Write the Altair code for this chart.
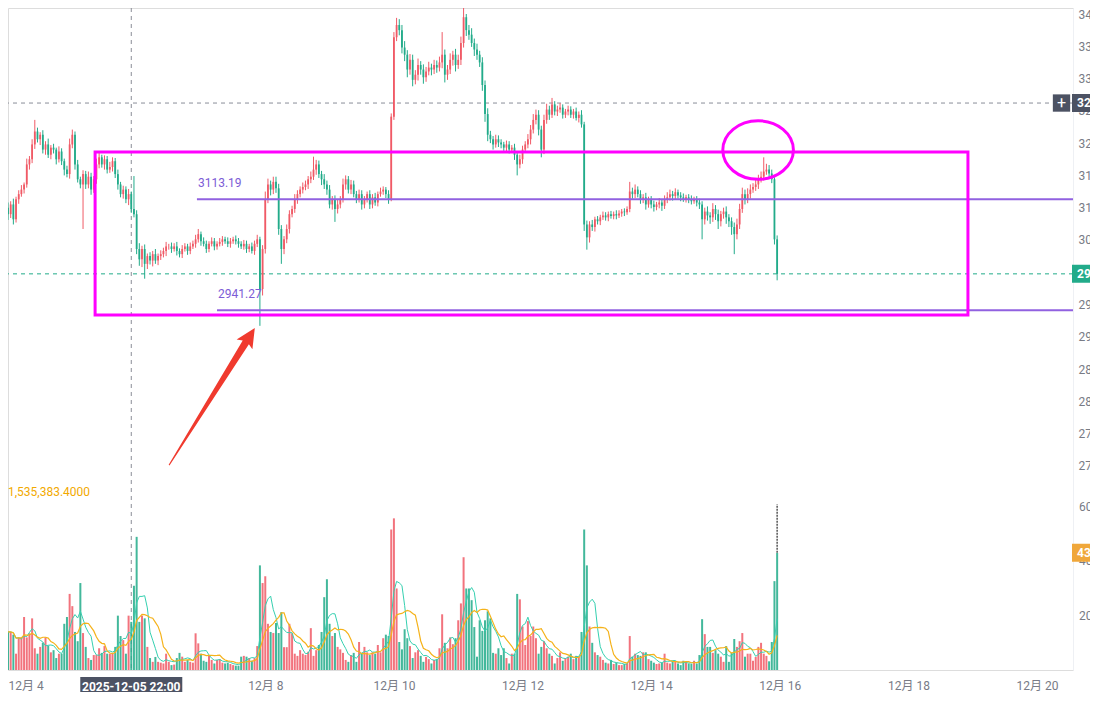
import altair as alt
import pandas as pd

# ---------------- data (hourly candles, 2025-12-04 00:00 UTC onward) ----------------
closes = [
    3090, 3105, 3082, 3113, 3121, 3128, 3136, 3167, 3175, 3198,
    3218, 3206, 3213, 3190, 3198, 3182, 3193, 3190, 3175, 3187,
    3172, 3159, 3152, 3198, 3213, 3167, 3144, 3136, 3152, 3136,
    3148, 3128, 3144, 3167, 3178, 3167, 3175, 3159, 3163, 3172,
    3152, 3136, 3121, 3128, 3113, 3121, 3098, 3090, 3036, 3020,
    3036, 3013, 3025, 3018, 3028, 3018, 3025, 3028, 3033, 3040,
    3040, 3036, 3040, 3033, 3028, 3036, 3040, 3033, 3040, 3044,
    3051, 3059, 3048, 3044, 3036, 3044, 3048, 3040, 3044, 3047,
    3051, 3048, 3044, 3048, 3051, 3048, 3044, 3040, 3044, 3036,
    3040, 3033, 3044, 3051, 2974, 3036, 3113, 3136, 3128, 3140,
    3130, 3067, 3036, 3051, 3067, 3090, 3098, 3113, 3121, 3128,
    3132, 3136, 3144, 3148, 3159, 3167, 3152, 3144, 3136, 3128,
    3105, 3113, 3098, 3105, 3113, 3136, 3144, 3128, 3136, 3121,
    3113, 3121, 3105, 3113, 3121, 3105, 3116, 3108, 3121, 3125,
    3128, 3121, 3113, 3241, 3364, 3383, 3375, 3348, 3337, 3314,
    3329, 3298, 3306, 3321, 3314, 3302, 3311, 3317, 3314, 3321,
    3317, 3325, 3337, 3306, 3314, 3329, 3337, 3321, 3329, 3355,
    3395, 3375, 3368, 3355, 3345, 3337, 3325, 3290, 3245, 3213,
    3206, 3198, 3206, 3201, 3198, 3193, 3198, 3190, 3193, 3182,
    3167, 3175, 3190, 3198, 3206, 3221, 3236, 3244, 3221, 3190,
    3236, 3252, 3244, 3260, 3249, 3252, 3255, 3244, 3249, 3252,
    3244, 3249, 3239, 3244, 3229, 3074, 3054, 3074, 3070, 3082,
    3079, 3085, 3088, 3085, 3090, 3087, 3090, 3088, 3091, 3094,
    3093, 3098, 3125, 3121, 3128, 3121, 3113, 3116, 3105, 3113,
    3105, 3101, 3105, 3108, 3103, 3113, 3116, 3121, 3118, 3124,
    3119, 3116, 3113, 3116, 3113, 3110, 3113, 3108, 3105, 3082,
    3094, 3088, 3085, 3098, 3090, 3079, 3090, 3094, 3085, 3079,
    3070, 3059, 3074, 3098, 3121, 3113, 3121, 3128, 3132, 3136,
    3144, 3148, 3156, 3159, 3153, 3144, 3051, 2997.5,
]
up_wick = [
    8, 5, 9, 4, 6, 7, 3, 9, 5, 8,
    18, 6, 4, 7, 5, 9, 4, 6, 3, 8,
    5, 4, 6, 9, 8, 5, 7, 4, 6, 5,
    8, 6, 5, 9, 7, 4, 6, 5, 8, 6,
    5, 7, 4, 6, 5, 8, 4, 51, 6, 9,
    5, 7, 4, 6, 5, 8, 4, 6, 5, 7,
    4, 6, 5, 7, 4, 6, 5, 4, 6, 5,
    7, 8, 4, 6, 5, 4, 6, 5, 4, 6,
    5, 4, 6, 5, 4, 6, 5, 4, 6, 5,
    4, 6, 5, 7, 4, 6, 12, 9, 6, 8,
    8, 7, 6, 5, 7, 6, 5, 8, 6, 5,
    7, 6, 5, 8, 20, 7, 6, 5, 8, 6,
    7, 5, 6, 8, 5, 9, 6, 5, 7, 6,
    5, 7, 6, 5, 4, 6, 5, 7, 4, 6,
    5, 4, 6, 5, 8, 11, 9, 8, 10, 7,
    9, 8, 7, 10, 6, 8, 7, 9, 6, 8,
    7, 9, 35, 8, 7, 10, 6, 9, 8, 10,
    27, 5, 8, 10, 7, 9, 6, 8, 7, 9,
    6, 5, 7, 6, 5, 4, 6, 5, 4, 6,
    5, 7, 6, 5, 8, 7, 9, 8, 7, 6,
    8, 9, 6, 10, 5, 6, 7, 5, 4, 6,
    5, 4, 6, 5, 7, 4, 6, 5, 7, 4,
    5, 4, 6, 5, 4, 5, 4, 6, 5, 4,
    5, 4, 15, 6, 8, 5, 6, 5, 7, 4,
    5, 6, 4, 7, 5, 6, 8, 7, 5, 6,
    4, 5, 6, 4, 5, 6, 4, 5, 6, 5,
    6, 8, 5, 9, 6, 7, 5, 6, 8, 5,
    6, 7, 9, 8, 10, 7, 9, 8, 6, 9,
    7, 8, 22, 9, 7, 6, 3, 6,
]
down_wick = [
    9, 6, 8, 5, 7, 4, 6, 5, 8, 6,
    7, 5, 9, 6, 8, 5, 7, 6, 8, 5,
    6, 9, 5, 7, 6, 8, 5, 6, 69, 7,
    6, 8, 5, 7, 6, 5, 8, 6, 5, 7,
    6, 8, 5, 7, 6, 9, 6, 5, 8, 10,
    12, 23, 8, 6, 9, 5, 7, 6, 5, 8,
    5, 6, 4, 7, 5, 6, 4, 6, 5, 4,
    6, 5, 7, 4, 6, 5, 4, 6, 5, 4,
    6, 4, 5, 6, 4, 5, 6, 4, 5, 6,
    5, 4, 6, 5, 57, 10, 7, 6, 9, 7,
    7, 9, 23, 8, 6, 7, 5, 6, 7, 5,
    6, 5, 7, 6, 5, 8, 6, 9, 7, 8,
    6, 8, 20, 7, 6, 5, 8, 6, 7, 5,
    6, 5, 8, 6, 5, 7, 6, 5, 6, 4,
    5, 6, 7, 3, 5, 6, 8, 9, 10, 12,
    8, 10, 7, 9, 8, 10, 7, 6, 9, 7,
    8, 6, 9, 12, 8, 7, 9, 10, 6, 8,
    7, 9, 8, 6, 10, 8, 7, 9, 12, 10,
    6, 8, 5, 7, 6, 5, 7, 6, 5, 8,
    17, 6, 7, 5, 6, 8, 6, 7, 9, 12,
    7, 6, 8, 5, 6, 7, 5, 6, 5, 6,
    5, 6, 4, 7, 5, 10, 19, 8, 6, 7,
    5, 6, 4, 5, 6, 4, 5, 6, 4, 5,
    6, 4, 5, 7, 6, 5, 7, 6, 8, 5,
    6, 7, 5, 6, 8, 5, 6, 5, 7, 6,
    5, 6, 4, 5, 6, 5, 4, 6, 7, 31,
    8, 8, 10, 7, 9, 12, 8, 7, 10, 9,
    12, 31, 8, 7, 6, 8, 6, 7, 5, 6,
    7, 5, 6, 5, 7, 6, 8, 10,
]
volumes = [
    14, 14, 13, 6, 12, 12, 19.5, 12, 13.5, 19,
    8, 6, 8.5, 10, 12, 9, 6.5, 7.3, 4.4, 6,
    6, 17, 19.5, 28, 23.5, 14, 10.6, 32, 13.6, 8.5,
    4.4, 3.7, 5.5, 5.5, 8, 6.3, 8.8, 6, 6, 6,
    8.5, 20, 12.5, 11, 6, 20, 17.7, 31, 49, 17.7,
    20, 19, 8.5, 4.4, 3, 4.8, 3, 2.7, 2.4, 6,
    3, 1.8, 2, 4.4, 6.3, 4.9, 3, 3.7, 3, 2.7,
    13.5, 9.8, 6, 3.4, 3, 5.5, 3.7, 2.4, 3.7, 4,
    2.7, 2.4, 2.7, 2.2, 1.8, 1.6, 1.6, 4.9, 5.2, 4.9,
    4.4, 3.4, 4.4, 8.8, 38.5, 32, 34.5, 17, 14, 13.6,
    17.3, 13.6, 21.3, 8.4, 8.4, 17, 13.5, 6, 5.2, 7.3,
    6, 5.5, 6.7, 15.4, 5.2, 7.3, 9.2, 14, 26.8, 33.4,
    17, 12.5, 13.6, 8.5, 7.6, 6.3, 3.7, 3, 5.5, 6.3,
    3, 10.3, 6, 8.5, 6.5, 5.5, 6.5, 6, 9.2, 6.5,
    11.7, 13, 12.5, 51.7, 55.8, 30, 10.3, 7.6, 15, 11.7,
    8.8, 4.4, 6.5, 7.3, 5.2, 3, 4.8, 4, 2.4, 3.7,
    4, 8, 20.5, 10, 8, 12, 9.5, 11.7, 18.3, 24.5,
    41.5, 30, 30, 25.7, 15.8, 4.9, 18.3, 14.4, 18.3, 21.6,
    19, 6.3, 6, 8, 5.5, 8, 4.4, 2.4, 6, 6,
    28, 26, 16, 9.2, 18, 12.5, 16, 11.7, 6, 8.5,
    10.6, 8, 6, 5.2, 2.4, 4.4, 6.5, 3.4, 4.4, 4.9,
    6, 4, 5.2, 4.8, 14, 51.7, 38.5, 16, 10, 6.5,
    5.5, 4.9, 3.7, 2.7, 2.4, 3.7, 2.2, 2.7, 1.8, 1.8,
    2.2, 2.4, 12.5, 4.9, 6, 5.5, 5.2, 6.5, 6.5, 4,
    3.4, 2.7, 2.2, 2.4, 2.7, 6, 2.7, 2.4, 3.4, 3,
    2.4, 1.8, 3.4, 3, 2.4, 2.2, 3.4, 2.4, 5.5, 18.7,
    13.2, 8.5, 8.5, 6.3, 7.3, 6, 4.9, 3, 8.8, 3,
    6.3, 11.4, 8.5, 10.6, 13.6, 4.9, 6, 6, 3.4, 4.8,
    8.5, 10, 6, 5.2, 3.2, 10.3, 32.7, 43.1,
]
first_open = 3100

price_ticks = [3400, 3350, 3300, 3250, 3200, 3150, 3100, 3050, 3000, 2950, 2900, 2850, 2800, 2750, 2700]
vol_ticks = [60, 40, 20]
date_tick_days = [4, 8, 10, 12, 14, 16, 18, 20]

support_levels = [3113.19, 2941.27]
support_starts = ["2025-12-06T22:30:00Z", "2025-12-07T06:00:00Z"]
crosshair_time = "2025-12-05T22:00:00Z"
crosshair_label = "2025-12-05 22:00"
crosshair_price = 3262.1
vol_ma_label = "1,535,383.4000"

# ---------------- build tables ----------------
n = len(closes)
assert len(up_wick) == n and len(down_wick) == n and len(volumes) == n, (n, len(up_wick), len(down_wick), len(volumes))
times = [f"2025-12-{4 + i // 24:02d}T{i % 24:02d}:00:00Z" for i in range(n)]
opens = [first_open] + closes[:-1]
highs = [max(o, c) + u for o, c, u in zip(opens, closes, up_wick)]
lows = [min(o, c) - d for o, c, d in zip(opens, closes, down_wick)]
dirs = ["up" if c >= o else "down" for o, c in zip(opens, closes)]
df = pd.DataFrame(dict(t=times, open=opens, high=highs, low=lows, close=closes, vol=volumes, dir=dirs))

RED = "#f05a66"
GREEN = "#22ab8a"
PURPLE = "#9161e0"
MAGENTA = "#ff00ff"
GRAY = "#787b86"
SLATE = "#4c5263"
ORANGE = "#f0a73a"
FONT = "Roboto, 'Noto Sans CJK SC', sans-serif"

t0 = pd.Timestamp("2025-12-04T00:00:00Z").value // 10**6
t1 = pd.Timestamp("2025-12-20T13:24:00Z").value // 10**6
end_iso = "2025-12-20T13:24:00Z"

x_scale = alt.Scale(type="utc", domain=[t0, t1], padding=0, nice=False)
x_axis = alt.Axis(
    values=[alt.DateTime(year=2025, month=12, date=d, hours=0, utc=True) for d in date_tick_days],
    labelExpr="utcFormat(datum.value, '%-m') + '月 ' + utcFormat(datum.value, '%-d')",
    labelColor=GRAY, labelFontSize=12, labelFont=FONT, labelPadding=10,
    ticks=False, domain=False, grid=False, title=None, labelOverlap=False,
)
price_scale = alt.Scale(domain=[2383.9, 3409.3], nice=False, zero=False, padding=0)
price_axis = alt.Axis(
    orient="right", values=price_ticks, format="d", labelColor=GRAY, labelFontSize=12, labelFont=FONT,
    labelPadding=5, ticks=False, domain=True, domainColor="#eef0f4", grid=False, title=None,
    labelOverlap=False,
)
vol_scale = alt.Scale(domain=[0, 243.6], nice=False, zero=True, padding=0)


def X(field):
    return alt.X(field, type="temporal", scale=x_scale, axis=x_axis)


def YP(field):
    return alt.Y(field, type="quantitative", scale=price_scale, axis=price_axis)


def YV(field):
    return alt.Y(field, type="quantitative", scale=vol_scale, axis=None)


color_enc = alt.Color("dir:N", scale=alt.Scale(domain=["up", "down"], range=[RED, GREEN]), legend=None)
base = alt.Chart(df)

# ---------------- price panel ----------------
wicks = base.mark_rule(strokeWidth=1).encode(x=X("t"), y=YP("low"), y2="high", color=color_enc)
bodies = base.mark_bar(size=1.8).encode(x=X("t"), y=YP("open"), y2="close", color=color_enc)

cross_v = alt.Chart(pd.DataFrame({"t": [crosshair_time]})).mark_rule(
    strokeDash=[4, 4], color="#8a8d98", strokeWidth=1).encode(x=X("t"))
cross_h = alt.Chart(pd.DataFrame({"p": [crosshair_price]})).mark_rule(
    strokeDash=[4, 4], color="#8a8d98", strokeWidth=1).encode(y=YP("p"))
last_line = alt.Chart(pd.DataFrame({"p": [closes[-1]]})).mark_rule(
    strokeDash=[4, 4], color=GREEN, strokeWidth=1).encode(y=YP("p"))

sup_df = pd.DataFrame({"t0": support_starts, "t1": [end_iso, end_iso], "p": support_levels,
                       "label": [f"{v:.2f}" for v in support_levels]})
sup_lines = alt.Chart(sup_df).mark_rule(color=PURPLE, strokeWidth=2).encode(x=X("t0"), x2="t1", y=YP("p"))
sup_text = alt.Chart(sup_df).mark_text(align="left", baseline="middle", dx=1, dy=-16, color="#7c5cd6",
                                       fontSize=12, font=FONT).encode(x=X("t0"), y=YP("p"), text="label:N")

box_df = pd.DataFrame({"t0": ["2025-12-05T08:30:00Z"], "t1": ["2025-12-18T22:12:00Z"],
                       "p0": [3186.2], "p1": [2933.7]})
box = alt.Chart(box_df).mark_rect(fillOpacity=0, stroke=MAGENTA, strokeWidth=3).encode(
    x=X("t0"), x2="t1", y=YP("p0"), y2="p1")

ell_df = pd.DataFrame({"t": ["2025-12-15T15:54:00Z"], "p": [3189.3]})
ellipse = alt.Chart(ell_df).mark_point(
    shape="M-1,0 A1,0.83 0 1,1 1,0 A1,0.83 0 1,1 -1,0 Z", size=4984, filled=False,
    stroke=MAGENTA, strokeWidth=3, opacity=1).encode(x=X("t"), y=YP("p"))

arrow_df = pd.DataFrame({"t": ["2025-12-07T04:06:00Z"], "p": [2807.5]})
arrow = alt.Chart(arrow_df).mark_point(
    shape="M0,-1 L0.115,-0.76 L0.045,-0.79 L0.006,1 L-0.006,1 L-0.045,-0.79 L-0.115,-0.76 Z",
    size=26180, angle=32, filled=True, color="#f03a2e", opacity=1, strokeWidth=0,
).encode(x=X("t"), y=YP("p"))

RECT_PATH = "M-1,-0.5 L1,-0.5 L1,0.5 L-1,0.5 Z"
badge_df = pd.DataFrame({"p": [crosshair_price, closes[-1]],
                         "label": [f"{crosshair_price:.2f}", f"{closes[-1]:.2f}"],
                         "c": [SLATE, GREEN]})
badges = alt.Chart(badge_df).mark_point(shape=RECT_PATH, size=1296, filled=True, opacity=1, strokeWidth=0).encode(
    x=alt.value(1082), y=YP("p"), color=alt.Color("c:N", scale=None))
badge_text = alt.Chart(badge_df).mark_text(align="left", baseline="middle", color="white", fontSize=12,
                                           fontWeight="bold", font=FONT).encode(
    x=alt.value(1069), y=YP("p"), text="label:N")
plus_df = pd.DataFrame({"p": [crosshair_price], "label": ["+"]})
plus_box = alt.Chart(plus_df).mark_point(shape="square", size=300, filled=True, color=SLATE, opacity=1,
                                         strokeWidth=0).encode(x=alt.value(1053.5), y=YP("p"))
plus_text = alt.Chart(plus_df).mark_text(align="center", baseline="middle", color="white", fontSize=16,
                                         font=FONT).encode(x=alt.value(1053.5), y=YP("p"), text="label:N")

time_df = pd.DataFrame({"t": [crosshair_time], "label": [crosshair_label]})
time_box = alt.Chart(time_df).mark_point(shape="M-1,-0.186 L1,-0.186 L1,0.186 L-1,0.186 Z", size=10404,
                                         filled=True, color=SLATE, opacity=1, strokeWidth=0).encode(
    x=X("t"), y=alt.value(678.5))
time_text = alt.Chart(time_df).mark_text(align="center", baseline="middle", color="white", fontSize=12,
                                         fontWeight="bold", font=FONT).encode(
    x=X("t"), y=alt.value(678.5), text="label:N")

price_layer = alt.layer(
    cross_v, cross_h, last_line, wicks, bodies, sup_lines, sup_text, box, ellipse, arrow,
    plus_box, plus_text, badges, badge_text, time_box, time_text,
)

# ---------------- volume panel ----------------
vol_bars = base.mark_bar(size=2, opacity=0.85).encode(x=X("t"), y=YV("vol"), color=color_enc)
ma5 = base.transform_window(ma5="mean(vol)", frame=[-4, 0], sort=[{"field": "t"}]).mark_line(
    strokeWidth=1, color="#35d0b0").encode(x=X("t"), y=YV("ma5"))
ma10 = base.transform_window(ma10="mean(vol)", frame=[-9, 0], sort=[{"field": "t"}]).mark_line(
    strokeWidth=1.2, color="#f5b21a").encode(x=X("t"), y=YV("ma10"))
proj_df = pd.DataFrame({"t": [times[-1]], "v0": [volumes[-1]], "v1": [61.0]})
proj = alt.Chart(proj_df).mark_rule(strokeDash=[2, 1], color="#555555", strokeWidth=1.5).encode(
    x=X("t"), y=YV("v0"), y2="v1")
vtick_df = pd.DataFrame({"v": vol_ticks, "label": [str(v) for v in vol_ticks]})
vtick_text = alt.Chart(vtick_df).mark_text(align="left", baseline="middle", color=GRAY, fontSize=12,
                                           font=FONT).encode(x=alt.value(1071), y=YV("v"), text="label:N")
vbadge_df = pd.DataFrame({"v": [volumes[-1]], "label": [f"{volumes[-1]:.0f}"]})
vbadge = alt.Chart(vbadge_df).mark_point(shape=RECT_PATH, size=1296, filled=True, color=ORANGE, opacity=1,
                                         strokeWidth=0).encode(x=alt.value(1082), y=YV("v"))
vbadge_text = alt.Chart(vbadge_df).mark_text(align="left", baseline="middle", color="white", fontSize=12,
                                             fontWeight="bold", font=FONT).encode(
    x=alt.value(1069), y=YV("v"), text="label:N")
legend_df = pd.DataFrame({"label": [vol_ma_label]})
legend_text = alt.Chart(legend_df).mark_text(align="left", baseline="middle", color="#f2a900", fontSize=12,
                                             font=FONT).encode(x=alt.value(0), y=alt.value(484), text="label:N")

vol_layer = alt.layer(vol_bars, ma5, ma10, proj, vtick_text, vbadge, vbadge_text, legend_text)

chart = alt.layer(price_layer, vol_layer).resolve_scale(y="independent").properties(
    width=1065, height=662,
    autosize=alt.AutoSizeParams(type="none"),
    padding={"left": 0, "top": 0, "right": 17, "bottom": 22},
    background="white",
).configure_view(stroke=None).configure(font=FONT)

chart.save("out.html", embed_options={"renderer": "svg", "actions": False})
